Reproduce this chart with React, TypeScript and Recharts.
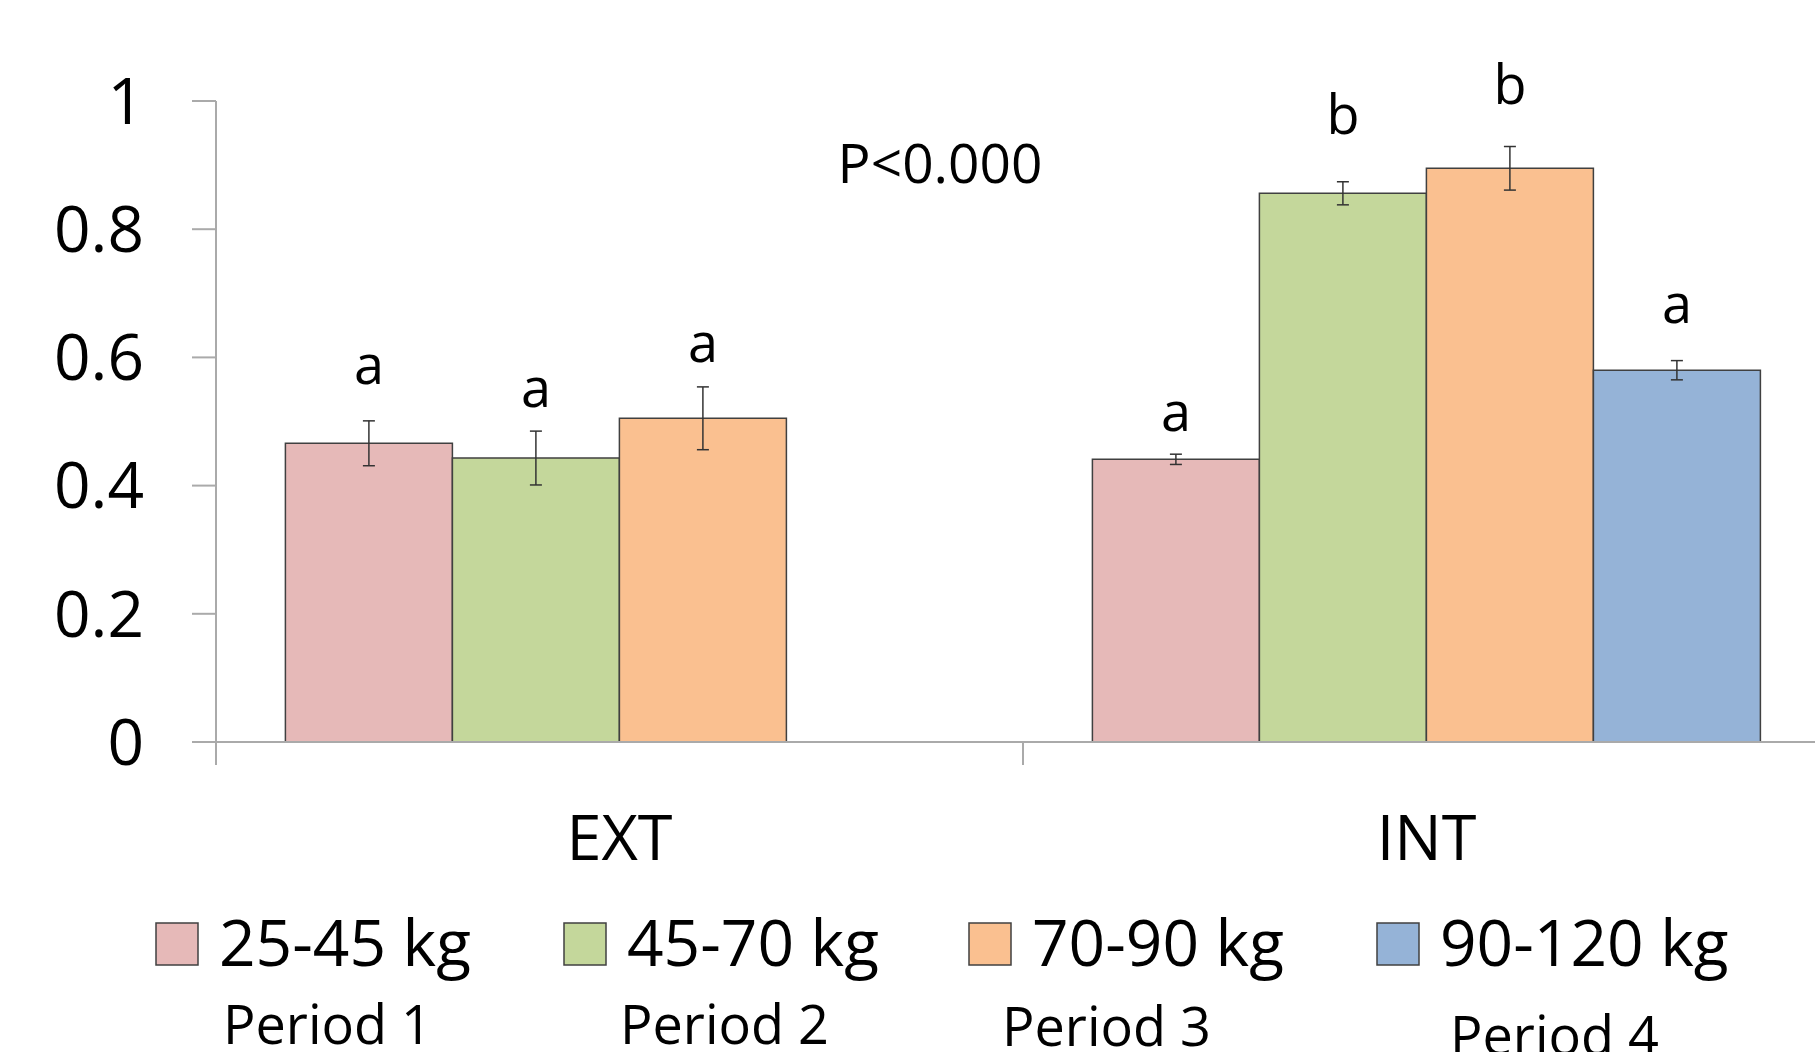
import React from "react";
import { BarChart, Bar, XAxis, YAxis, ErrorBar, LabelList } from "recharts";

const groups = ["EXT", "INT"];
const weightClasses = ["25-45 kg", "45-70 kg", "70-90 kg", "90-120 kg"];
const periods = ["Period 1", "Period 2", "Period 3", "Period 4"];
const extMeans = [0.466, 0.443, 0.505, null];
const extErrors = [0.035, 0.042, 0.049, null];
const intMeans = [0.441, 0.856, 0.895, 0.58];
const intErrors = [0.008, 0.018, 0.034, 0.015];
const extLetters = ["a", "a", "a", ""];
const intLetters = ["a", "b", "b", "a"];
const yTicks = [0, 0.2, 0.4, 0.6, 0.8, 1];
const pLabel = "P<0.000";

const colors = ["#e6b9b8", "#c4d79b", "#fac090", "#95b3d7"];
const font = "'Open Sans', sans-serif";
const axisGray = "#aaaaaa";

// hand-placed letters in the original sit at slightly different heights
const letterLift = [
  [37, 24, 25, 0],
  [23, 48, 43, 38],
];

// legend layout (the original legend is a set of loose text boxes)
const legendSquareX = [156, 564, 969, 1377];
const periodX = [223, 620, 1002, 1450];
const periodY = [1044, 1044, 1046, 1055];

const means = [extMeans, intMeans];
const errors = [extErrors, intErrors];
const letters = [extLetters, intLetters];

const data = groups.map((g, gi) => {
  const row: any = { group: g, slot: gi };
  weightClasses.forEach((_, k) => {
    row[`m${k}`] = means[gi][k];
    row[`e${k}`] = errors[gi][k];
    row[`l${k}`] = letters[gi][k];
  });
  return row;
});

const renderLetter = (k: number) => (props: any) => {
  const vb = props.viewBox ?? {};
  const x = props.x ?? vb.x;
  const y = props.y ?? vb.y;
  const width = props.width ?? vb.width;
  const height = props.height ?? vb.height;
  const [group, letter] = String(props.value ?? "").split("|");
  if (!letter) return null;
  const gi = groups.indexOf(group);
  const row = data[gi];
  const mean = row[`m${k}`];
  const err = row[`e${k}`];
  if (mean == null) return null;
  const pxPerUnit = height / mean;
  const baseline = y - err * pxPerUnit - letterLift[gi][k];
  return (
    <text
      x={x + width / 2}
      y={baseline}
      textAnchor="middle"
      fontFamily={font}
      fontSize={54}
      fill="#000"
    >
      {letter}
    </text>
  );
};

const CategoryTick = (props: any) => {
  const { x, y, payload } = props;
  return (
    <text x={x} y={y + 117} textAnchor="middle" fontFamily={font} fontSize={63} fill="#000">
      {payload.value}
    </text>
  );
};

const EmptyTick = () => <g />;

export default function App() {
  return (
    <div
      style={{
        position: "fixed",
        left: 0,
        top: 0,
        width: 1815,
        height: 1052,
        overflow: "hidden",
        background: "#fff",
      }}
    >
      <BarChart
        width={1840}
        height={1052}
        data={data}
        margin={{ top: 101, right: 10, bottom: 0, left: 0 }}
        barCategoryGap="8.6%"
        barGap={0}
      >
        <XAxis
          xAxisId="b_cat"
          dataKey="group"
          height={309}
          tickLine={false}
          tickSize={0}
          tickMargin={0}
          axisLine={false}
          tick={<CategoryTick />}
          interval={0}
        />
        <XAxis
          xAxisId="a_div"
          type="number"
          dataKey="slot"
          domain={[0, groups.length]}
          allowDataOverflow
          ticks={groups.map((_, i) => i).concat(groups.length)}
          interval={0}
          height={1}
          tick={EmptyTick}
          axisLine={{ stroke: axisGray, strokeWidth: 2 }}
          tickLine={{ stroke: axisGray, strokeWidth: 2 }}
          tickSize={23}
        />
        <YAxis
          width={216}
          domain={[0, 1]}
          ticks={yTicks}
          tickFormatter={(v: number) => String(v)}
          tickSize={24}
          tickMargin={48}
          axisLine={{ stroke: axisGray, strokeWidth: 2 }}
          tickLine={{ stroke: axisGray, strokeWidth: 2 }}
          tick={{ fontFamily: font, fontSize: 64, fill: "#000" }}
        />
        {weightClasses.map((w, k) => (
          <Bar
            key={w}
            xAxisId="b_cat"
            dataKey={`m${k}`}
            name={w}
            fill={colors[k]}
            stroke="#404040"
            strokeWidth={1.5}
            isAnimationActive={false}
          >
            <ErrorBar dataKey={`e${k}`} width={6} stroke="#333" strokeWidth={1.5} />
            <LabelList
              dataKey={(row: any) => `${row.group}|${row[`l${k}`]}`}
              content={renderLetter(k)}
            />
          </Bar>
        ))}
      </BarChart>
      <svg
        width={1815}
        height={1052}
        style={{ position: "absolute", left: 0, top: 0, pointerEvents: "none" }}
      >
        <text x={940} y={183} textAnchor="middle" fontFamily={font} fontSize={55} fill="#000">
          {pLabel}
        </text>
        {weightClasses.map((w, k) => (
          <g key={w}>
            <rect
              x={legendSquareX[k]}
              y={923}
              width={42}
              height={42}
              fill={colors[k]}
              stroke="#404040"
              strokeWidth={1.5}
            />
            <text x={legendSquareX[k] + 63} y={966} fontFamily={font} fontSize={64} fill="#000">
              {w}
            </text>
            <text x={periodX[k]} y={periodY[k]} fontFamily={font} fontSize={54} fill="#000">
              {periods[k]}
            </text>
          </g>
        ))}
      </svg>
    </div>
  );
}
